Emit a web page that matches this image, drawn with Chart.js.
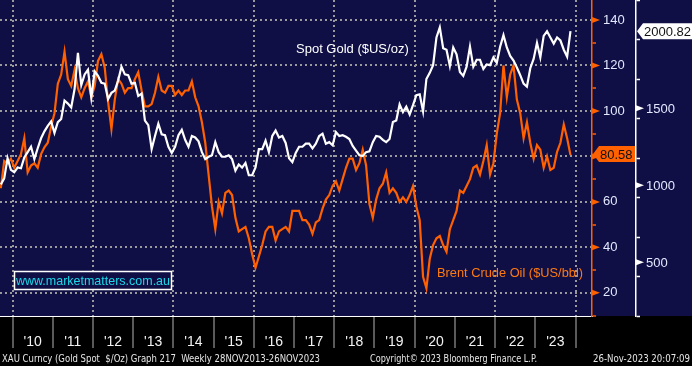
<!DOCTYPE html>
<html>
<head>
<meta charset="utf-8">
<script src="https://cdn.jsdelivr.net/npm/chart.js@4"></script>
<style>
  html, body { margin: 0; padding: 0; background: #000; }
  #wrap { width: 692px; height: 366px; }
</style>
</head>
<body>
<div id="wrap"><canvas id="chart" width="692" height="366"></canvas></div>
<script>
// monthly readings, Sep 2009 .. Nov 2023
const oil = [
  66, 78, 77, 79, // 2009
  75, 78, 81, 88, 73, 76, 77, 75, 81, 84, 86, 93, // 2010
  99, 112, 116, 126, 114, 111, 118, 110, 106, 110, 113, 106, // 2011
  111, 122, 125, 119, 104, 92, 105, 114, 112, 108, 110, 110, // 2012
  114, 117, 109, 102, 102, 103, 108, 115, 109, 108, 111, 111, // 2013
  107, 109, 107, 109, 109, 113, 106, 102, 95, 86, 72, 58, // 2014
  48, 60, 55, 64, 65, 63, 53, 47, 48, 49, 44, 37, // 2015
  31, 36, 41, 47, 49, 49, 43, 47, 48, 49, 47, 56, // 2016
  56, 56, 52, 52, 50, 46, 51, 52, 57, 61, 63, 67, // 2017
  69, 65, 70, 75, 79, 79, 74, 77, 83, 76, 59, 53, // 2018
  61, 66, 68, 73, 64, 66, 64, 60, 62, 60, 63, 67, // 2019
  58, 52, 27, 22, 35, 41, 44, 45, 41, 38, 48, 52, // 2020
  56, 65, 64, 67, 70, 75, 76, 72, 78, 85, 72, 77, // 2021
  90, 99, 120, 106, 116, 120, 105, 99, 88, 95, 86, 79, // 2022
  85, 83, 75, 80, 74, 75, 82, 86, 94, 88, 80.58, // 2023
]

const gold = [
  1005, 1045, 1175, 1100, // 2009
  1085, 1115, 1110, 1180, 1215, 1250, 1170, 1240, 1305, 1350, 1385, 1415, // 2010
  1340, 1410, 1430, 1550, 1530, 1505, 1625, 1860, 1650, 1720, 1750, 1570, // 2011
  1740, 1710, 1665, 1660, 1560, 1600, 1615, 1680, 1770, 1720, 1715, 1660, // 2012
  1665, 1580, 1595, 1420, 1390, 1235, 1320, 1400, 1330, 1325, 1250, 1210, // 2013
  1250, 1325, 1360, 1295, 1250, 1320, 1310, 1285, 1215, 1170, 1185, 1195, // 2014
  1280, 1215, 1185, 1185, 1195, 1170, 1095, 1135, 1115, 1145, 1065, 1065, // 2015
  1115, 1235, 1235, 1290, 1215, 1320, 1355, 1310, 1320, 1275, 1175, 1150, // 2016
  1210, 1250, 1250, 1270, 1270, 1240, 1270, 1320, 1335, 1270, 1280, 1260, // 2017
  1345, 1320, 1325, 1315, 1300, 1255, 1225, 1195, 1190, 1215, 1220, 1280, // 2018
  1320, 1315, 1295, 1280, 1300, 1410, 1420, 1525, 1475, 1510, 1460, 1520, // 2019
  1585, 1590, 1480, 1690, 1730, 1780, 1960, 2025, 1890, 1880, 1775, 1895, // 2020
  1850, 1735, 1710, 1770, 1900, 1770, 1815, 1815, 1755, 1785, 1780, 1830, // 2021
  1795, 1900, 1975, 1895, 1840, 1810, 1765, 1715, 1660, 1640, 1760, 1820, // 2022
  1925, 1830, 1970, 2000, 1960, 1920, 1960, 1940, 1880, 1835, 2000.82, // 2023
]

const yearLabels = ["'10", "'11", "'12", "'13", "'14", "'15", "'16", "'17", "'18", "'19", "'20", "'21", "'22", "'23"]
const oilLabels = [20, 40, 60, 80, 100, 120, 140]
const goldLabels = [500, 1000, 1500]

// month categories, one per reading
const months = []
for (let y = 2009, m = 9; months.length < oil.length; ) {
  months.push(y + '-' + String(m).padStart(2, '0'))
  m++
  if (m > 12) { m = 1; y++ }
}
const xs = months.map((s) => {
  const [y, m] = s.split('-').map(Number)
  return y + (m - 0.5) / 12
})

const NAVY = '#100f45'
const ORANGE = '#ff6000'
const GRID = '#9a9a9a'
const CLEAR = 'rgba(0,0,0,0)'
const LABEL = '#e2e8ff'
const FONT = '"Liberation Sans", Arial, sans-serif'

const zeroPad = (scale) => {
  scale.paddingTop = 0
  scale.paddingBottom = 0
  scale.paddingLeft = 0
  scale.paddingRight = 0
}

// navy plot area, black footer
const background = {
  id: 'background',
  beforeDraw(chart) {
    const { ctx, width, height, chartArea } = chart
    ctx.save()
    ctx.fillStyle = '#000'
    ctx.fillRect(0, 0, width, height)
    ctx.fillStyle = NAVY
    ctx.fillRect(0, 0, width, chartArea.bottom)
    ctx.restore()
  },
}

function tag(ctx, x0, x1, yc, fill, text) {
  ctx.beginPath()
  ctx.moveTo(x0, yc)
  ctx.lineTo(x0 + 6, yc - 8)
  ctx.lineTo(x1, yc - 8)
  ctx.lineTo(x1, yc + 8)
  ctx.lineTo(x0 + 6, yc + 8)
  ctx.closePath()
  ctx.fillStyle = fill
  ctx.fill()
  ctx.fillStyle = '#111'
  ctx.font = '13px ' + FONT
  ctx.textBaseline = 'middle'
  ctx.textAlign = 'left'
  ctx.fillText(text, x0 + 7, yc + 1)
}

const annotations = {
  id: 'annotations',
  afterDraw(chart) {
    const { ctx } = chart
    const oilScale = chart.scales.yOil
    const goldScale = chart.scales.yGold
    ctx.save()

    // major tick arrows
    oilLabels.forEach((v) => {
      const y = oilScale.getPixelForValue(v)
      ctx.fillStyle = ORANGE
      ctx.beginPath()
      ctx.moveTo(oilScale.left, y - 3)
      ctx.lineTo(oilScale.left + 8, y)
      ctx.lineTo(oilScale.left, y + 3)
      ctx.fill()
    })
    ctx.font = '13px ' + FONT
    ctx.textBaseline = 'middle'
    ctx.textAlign = 'left'
    goldLabels.forEach((v) => {
      const y = goldScale.getPixelForValue(v)
      ctx.fillStyle = '#fff'
      ctx.beginPath()
      ctx.moveTo(goldScale.left, y - 3)
      ctx.lineTo(goldScale.left + 8, y)
      ctx.lineTo(goldScale.left, y + 3)
      ctx.fill()
      ctx.fillStyle = LABEL
      ctx.fillText(String(v), goldScale.left + 10, y + 1)
    })

    // last value tags
    const lastOil = oil[oil.length - 1]
    const lastGold = gold[gold.length - 1]
    tag(ctx, oilScale.left + 1, goldScale.left - 1, oilScale.getPixelForValue(lastOil) - 1, ORANGE, lastOil.toFixed(2))
    tag(ctx, goldScale.left + 1, 692, goldScale.getPixelForValue(lastGold), '#fff', lastGold.toFixed(2))

    // series captions
    ctx.textBaseline = 'middle'
    ctx.textAlign = 'left'
    ctx.font = '13px ' + FONT
    ctx.fillStyle = '#ffffff'
    ctx.fillText('Spot Gold ($US/oz)', 296, 49, 113)
    ctx.fillStyle = '#ff7a10'
    ctx.fillText('Brent Crude Oil ($US/bbl)', 437, 273, 146)

    // site box
    ctx.fillStyle = NAVY
    ctx.fillRect(14, 271, 157, 18)
    ctx.strokeStyle = '#ffffff'
    ctx.lineWidth = 1.5
    ctx.strokeRect(14.5, 271.5, 157, 18)
    ctx.fillStyle = '#1cd8ea'
    ctx.fillText('www.marketmatters.com.au', 16, 281, 154)

    // footer
    ctx.font = '11px "DejaVu Sans Condensed", ' + FONT
    ctx.fillStyle = '#e6e6e6'
    ctx.fillText('XAU Curncy (Gold Spot  $/Oz) Graph 217  Weekly 28NOV2013-26NOV2023', 2, 359, 318)
    ctx.fillText('Copyright\u00a9 2023 Bloomberg Finance L.P.', 370, 359, 167)
    ctx.fillText('26-Nov-2023 20:07:09', 593, 359, 97)
    ctx.restore()
  },
}

new Chart(document.getElementById('chart'), {
  type: 'line',
  data: {
    datasets: [
      {
        label: 'Spot Gold ($US/oz)',
        data: gold.map((v, i) => ({ x: xs[i], y: v })),
        yAxisID: 'yGold',
        borderColor: '#ffffff',
        borderWidth: 2.2,
        pointRadius: 0,
      },
      {
        label: 'Brent Crude Oil ($US/bbl)',
        data: oil.map((v, i) => ({ x: xs[i], y: v })),
        yAxisID: 'yOil',
        borderColor: ORANGE,
        borderWidth: 2.2,
        pointRadius: 0,
      },
    ],
  },
  options: {
    responsive: false,
    animation: false,
    layout: { padding: 0 },
    plugins: { legend: { display: false }, tooltip: { enabled: false } },
    scales: {
      x: {
        type: 'linear',
        min: 2009.687,
        max: 2024.41,
        afterFit: (scale) => {
          scale.height = 50
          zeroPad(scale)
        },
        grid: {
          color: (c) => (c.tick && c.tick.value % 2 === 0 ? GRID : CLEAR),
          lineWidth: 2,
          tickColor: '#b4b4b4',
          tickWidth: 1,
          tickLength: 32,
        },
        border: { display: true, color: '#ffffff', width: 1, dash: [2, 3] },
        ticks: {
          stepSize: 1,
          includeBounds: false,
          autoSkip: false,
          maxRotation: 0,
          labelOffset: 20,
          padding: -14,
          color: '#f2f2f2',
          font: { family: FONT, size: 14 },
          callback: (v) => yearLabels[v - 2010] || '',
        },
      },
      yOil: {
        type: 'linear',
        position: 'right',
        min: 9.8,
        max: 148.8,
        afterFit: (scale) => {
          scale.width = 44
          zeroPad(scale)
        },
        grid: {
          color: (c) => (c.tick && c.tick.value % 20 === 0 ? GRID : CLEAR),
          lineWidth: 2,
          tickColor: ORANGE,
          tickWidth: 1.5,
          tickLength: 4,
        },
        border: { display: true, color: ORANGE, width: 1.5, dash: [2, 3] },
        ticks: {
          stepSize: 10,
          includeBounds: false,
          autoSkip: false,
          padding: 7,
          color: LABEL,
          font: { family: FONT, size: 13 },
          callback: (v) => (oilLabels.includes(v) ? String(v) : ''),
        },
      },
      yGold: {
        type: 'linear',
        position: 'right',
        min: 151,
        max: 2203,
        afterFit: (scale) => {
          scale.width = 56
          zeroPad(scale)
        },
        grid: {
          drawOnChartArea: false,
          tickColor: '#ffffff',
          tickWidth: 1.5,
          tickLength: 4,
        },
        border: { display: true, color: '#ffffff', width: 1.5 },
        ticks: {
          stepSize: 250,
          includeBounds: false,
          autoSkip: false,
          padding: 6,
          color: LABEL,
          font: { family: FONT, size: 13 },
          callback: () => '',
        },
      },
    },
  },
  plugins: [background, annotations],
})
</script>
</body>
</html>
